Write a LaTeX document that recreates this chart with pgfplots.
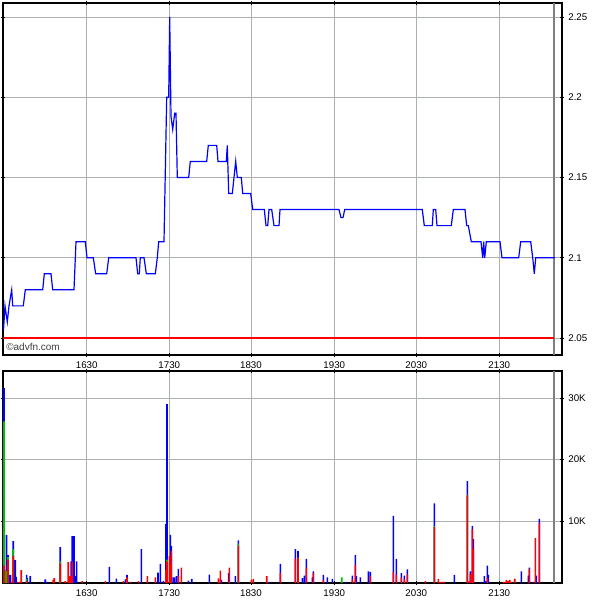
\documentclass[border=0pt]{standalone}
\usepackage{fontspec}
\setmainfont{Liberation Sans}
\usepackage{pgfplots}
\pgfplotsset{compat=1.18}

\definecolor{gridgray}{RGB}{172,178,178}
\definecolor{endgray}{RGB}{128,128,128}

\pgfplotsset{
  chartbase/.style={
    scale only axis,
    width=419.25pt,
    xmin=3, xmax=562,
    axis line style={black, line width=0.8pt},
    xtick={86.7,169.3,251,334.3,416.3,499.3},
    xticklabels={1630,1730,1830,1930,2030,2130},
    grid=major,
    major grid style={gridgray, line width=0.6pt},
    tick style={black, line width=0.6pt},
    major tick length=2.5pt,
    minor tick length=2pt,
    tick align=center,
    yticklabel pos=right,
    ticklabel style={font=\fontsize{7.3}{8}\selectfont},
    /pgf/number format/assume math mode=true,
    extra x ticks={554},
    extra x tick labels={},
    extra x tick style={grid=major, major grid style={endgray, line width=0.9pt}, major tick length=0pt},
    clip=true,
  },
}

\begin{document}
\begin{tikzpicture}
\useasboundingbox (0,0) rectangle (450pt,-450pt);

% price panel
\begin{axis}[chartbase,
  at={(2.25pt,-2.25pt)}, anchor=north west,
  height=264pt,
  ymin=2.0394, ymax=2.2587,
  ytick={2.05,2.1,2.15,2.2,2.25},
  yticklabels={2.05,2.1,2.15,2.2,2.25},
  minor ytick={2.075,2.125,2.175,2.225},
]
\addplot[red, line width=0.9pt] coordinates {(3,2.05) (554,2.05)};
\addplot[blue, line width=0.9pt] coordinates {
(3.5,2.055) (5,2.07) (7.3,2.06) (9,2.07) (11.7,2.08) (12.7,2.07) (23.3,2.07) (25.3,2.08)
(42.7,2.08) (44.3,2.09) (51,2.09) (52.7,2.08) (74,2.08) (76,2.11) (85.3,2.11) (87,2.10)
(93.3,2.10) (95.7,2.09) (106.7,2.09) (108.7,2.10) (136,2.10) (137.7,2.09) (139.3,2.09)
(140.3,2.10) (144,2.10) (146.3,2.09) (155.3,2.09) (157.3,2.10) (158.7,2.11) (164,2.11)
(166.7,2.20) (168.7,2.20) (169.7,2.25) (171,2.188) (172.7,2.18) (174.7,2.19) (176,2.19)
(177.3,2.15) (188.7,2.15) (190.3,2.16) (206.7,2.16) (208.3,2.17) (216.7,2.17) (218,2.16)
(226.3,2.16) (227.3,2.17) (228.7,2.14) (232.3,2.14) (235.7,2.16) (237.3,2.15) (241.3,2.15)
(242.7,2.14) (250.7,2.14) (252.7,2.13) (264.3,2.13) (266,2.12) (267.7,2.12) (269,2.13)
(271.7,2.13) (274,2.12) (279,2.12) (280,2.13) (339,2.13) (341,2.125) (343,2.125) (344.7,2.13)
(422.3,2.13) (424.3,2.12) (432.3,2.12) (433.3,2.13) (435.7,2.13) (437,2.12) (451.3,2.12)
(453.3,2.13) (465,2.13) (466.7,2.12) (468.3,2.12) (471.3,2.11) (481,2.11) (482.7,2.10)
(483.7,2.11) (484.7,2.10) (486.3,2.11) (500,2.11) (502,2.10) (518.7,2.10) (520.7,2.11)
(530.7,2.11) (532.7,2.10) (534.3,2.09) (535.7,2.10) (555,2.10)
};
\node[anchor=west, inner sep=0pt, text=black!75, font=\fontsize{7.5}{8}\selectfont]
  at (axis cs:6,2.0445) {\textcopyright advfn.com};
\end{axis}

% volume panel (values in thousands)
\begin{axis}[chartbase,
  at={(2.25pt,-278.25pt)}, anchor=north west,
  height=159pt,
  ymin=0, ymax=34.36,
  ytick={10,20,30},
  yticklabels={10K,20K,30K},
  minor ytick={5,15,25},
]
% total height (blue top)
\addplot[ybar, bar width=1.2pt, bar shift=0pt, draw=none, fill=blue] coordinates {
(4,31.6) (5.5,2.0) (6.5,7.8) (8,4.5) (9.5,1.3) (10.5,1.3) (13.3,6.8) (15.3,3.7) (16,1.0)
(26.7,1.3) (27.3,0.8) (30.3,1.1) (45.3,0.6) (46.7,0.2) (60.3,5.8) (71.3,3.5) (72.3,7.6)
(74,7.6) (75.3,1.1) (76.7,3.5) (109.3,2.6) (116.3,0.7) (125.3,0.6) (127,1.3) (141.3,5.5)
(158,1.7) (160.3,3.1) (163.3,0.3) (166,9.6) (167,29.0) (170.3,7.8) (171.3,6.0) (173.3,0.9)
(174.3,0.9) (176.3,1.1) (178.3,2.3) (188.3,0.4) (191.7,0.65) (209.3,1.35) (221.3,0.5)
(228.7,1.6) (235.3,1.1) (238.3,6.9) (269.3,0.2) (280.3,3.1) (295.3,5.5) (298,5.2)
(302.3,0.8) (304.3,1.2) (306.3,3.9) (312.3,0.9) (313.3,1.9) (323.3,1.3) (327.3,0.9)
(332.3,0.65) (345.7,0.2) (352.3,1.2) (355.3,4.5) (356.3,1.1) (360.3,0.9) (368.3,1.9)
(370.3,1.8) (393.3,10.9) (396.3,3.9) (401.3,1.6) (404.3,1.2) (407.3,2.2) (434.3,12.9)
(454.3,1.3) (467.3,16.5) (470.3,1.9) (472.3,9.2) (473.3,7.1) (481.3,0.2) (484.3,1.1)
(485.3,0.3) (487.3,2.8) (488.3,1.3) (521.3,1.9) (528.3,1.2) (529.3,2.5) (533.3,0.2)
(536.3,1.2) (539.3,10.4)
};
% red + green height
\addplot[ybar, bar width=1.2pt, bar shift=0pt, draw=none, fill=green!75!black] coordinates {
(4,26.2) (5.5,1.9) (6.5,2.0) (8,4.2) (13.3,5.5) (26.7,0.7) (60.3,3.5) (167,3.8)
(238.3,6.4) (341.7,0.9) (434.3,9.2) (467.3,14.3)
};
% red height
\addplot[ybar, bar width=1.2pt, bar shift=0pt, draw=none, fill=red] coordinates {
(4,2.8) (8,3.8) (12,0.2) (13.3,4.4) (18.3,0.2) (19.3,0.2) (21.3,2.1) (26.7,0.3)
(53.3,0.5) (54.3,0.8) (60.3,3.2) (65.3,0.3) (68.3,3.4) (70.3,1.1) (72.3,3.5) (82.3,0.3)
(105.3,0.3) (123.3,0.3) (127,0.9) (130.3,0.2) (138.3,0.3) (147.3,1.1) (155.3,0.9)
(166,2.1) (167,3.5) (169.3,4.4) (170.3,3.0) (171.3,5.2) (178.3,1.1) (181.3,2.5)
(218.3,0.75) (220.3,2.0) (229.3,2.5) (238.3,6.05) (251.3,0.5) (253.3,0.65) (266.7,1.1)
(280.3,1.6) (295.3,3.9) (298,4.1) (306.3,2.5) (313.3,1.6) (323.3,0.5) (352.3,0.6)
(355.3,2.9) (370.3,1.1) (393.3,1.8) (396.3,1.3) (401.3,0.9) (404.3,0.6) (407.3,1.4)
(425.3,0.3) (434.3,9.1) (438.3,0.65) (440.3,0.2) (442.3,0.2) (444,0.2) (467.3,14.2)
(469.3,0.3) (470.3,1.5) (472.3,8.7) (473.3,5.5) (487.3,0.8) (503.3,0.2) (504.7,0.2)
(506.3,0.5) (507.7,0.3) (509.7,0.5) (510.7,0.2) (514.7,0.7) (529.3,2.3) (535.3,7.3)
(539.3,9.7)
};
\end{axis}
\end{tikzpicture}
\end{document}
